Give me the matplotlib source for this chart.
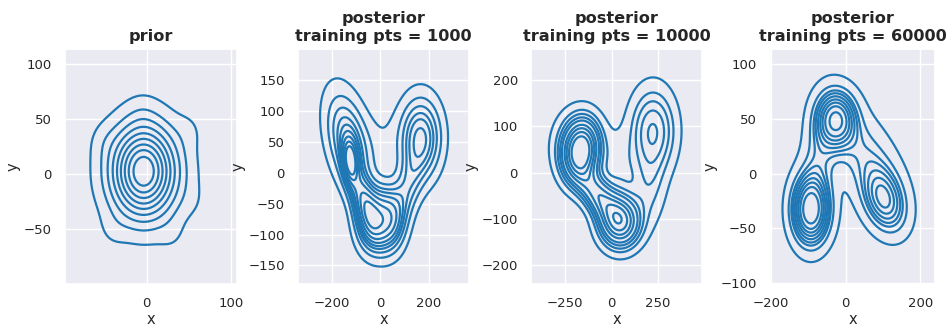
import numpy as np
import matplotlib
matplotlib.use('Agg')
import matplotlib.pyplot as plt
import seaborn as sns

# gaussian mixture components (centre, spread, correlation, weight) per panel
prior_mx = [-4, 0, -5, -50, 50, 55, -40, 30]
prior_my = [3, 0, 55, 30, 40, -25, -50, -55]
prior_sx = [24, 34, 12, 12, 12, 12, 12, 12]
prior_sy = [27, 27, 12, 12, 12, 12, 12, 12]
prior_rho = [0, 0, 0, 0, 0, 0, 0, 0]
prior_w = [0.8, 0.16, 0.005, 0.007, 0.007, 0.004, 0.007, 0.006]

p1k_mx = [-124, -130, -70, -35, 35, 165, 110, 15]
p1k_my = [20, 50, -45, -75, -75, 57, -25, 40]
p1k_sx = [20, 60, 40, 42, 42, 55, 45, 70]
p1k_sy = [22, 52, 35, 33, 33, 42, 40, 40]
p1k_rho = [-0.2, -0.4, -0.6, 0.0, 0.0, 0.0, 0.5, 0.0]
p1k_w = [0.05, 0.18, 0.08, 0.12, 0.12, 0.17, 0.06, 0.025]

p10k_mx = [-165, -180, -70, 45, 222, 200, 40]
p10k_my = [46, 60, -50, -105, 90, -30, 10]
p10k_sx = [60, 90, 75, 70, 80, 60, 60]
p10k_sy = [40, 50, 38, 36, 60, 55, 50]
p10k_rho = [0.1, 0.0, -0.6, 0.0, 0.0, 0.0, 0.0]
p10k_w = [0.24, 0.09, 0.12, 0.20, 0.18, 0.05, 0.03]

p60k_mx = [-25, -93, 102, 55, -70, 0]
p60k_my = [49, -33, -24, 15, 15, 10]
p60k_sx = [32, 30, 35, 60, 30, 100]
p60k_sy = [16, 19, 18, 28, 30, 55]
p60k_rho = [0.0, 0.0, -0.3, -0.6, 0.3, 0.0]
p60k_w = [0.20, 0.28, 0.16, 0.14, 0.08, 0.05]

titles = ['prior', 'posterior\ntraining pts = 1000',
          'posterior\ntraining pts = 10000', 'posterior\ntraining pts = 60000']
xlims = [(-97, 107), (-339, 364), (-432, 485), (-202, 239)]
ylims = [(-100, 114), (-180, 200), (-240, 266), (-101, 114)]
xticks = [[0, 100], [-200, 0, 200], [-250, 0, 250], [-200, 0, 200]]
yticks = [[-50, 0, 50, 100], [-150, -100, -50, 0, 50, 100, 150],
          [-200, -100, 0, 100, 200], [-100, -50, 0, 50, 100]]
boxes = [(65, 237), (298, 469), (531, 702), (770, 935)]


def mixture_density(xx, yy, mx, my, sx, sy, rho, w):
    z = np.zeros_like(xx)
    for m1, m2, s1, s2, r, wt in zip(mx, my, sx, sy, rho, w):
        u = (xx - m1) / s1
        v = (yy - m2) / s2
        q = (u * u - 2 * r * u * v + v * v) / (1 - r * r)
        z += wt * np.exp(-0.5 * q) / (2 * np.pi * s1 * s2 * np.sqrt(1 - r * r))
    return z


def iso_levels(z, props):
    # same iso-proportion rule as seaborn's kdeplot
    vals = np.sort(z.ravel())[::-1]
    cum = np.cumsum(vals) / vals.sum()
    idx = np.searchsorted(cum, 1 - np.asarray(props))
    return np.take(vals, idx, mode='clip')


def main():
    sns.set_theme(style='darkgrid')
    plt.rcParams['xtick.labelsize'] = 9.5
    plt.rcParams['ytick.labelsize'] = 9.5
    plt.rcParams['axes.labelsize'] = 10.5

    fig = plt.figure(figsize=(9.46, 3.28), dpi=100)
    W, H = 946., 328.

    mixes = [
        (prior_mx, prior_my, prior_sx, prior_sy, prior_rho, prior_w),
        (p1k_mx, p1k_my, p1k_sx, p1k_sy, p1k_rho, p1k_w),
        (p10k_mx, p10k_my, p10k_sx, p10k_sy, p10k_rho, p10k_w),
        (p60k_mx, p60k_my, p60k_sx, p60k_sy, p60k_rho, p60k_w),
    ]
    props = np.linspace(0.05, 1, 10)

    for i, mix in enumerate(mixes):
        x0, x1 = boxes[i]
        ax = fig.add_axes([x0 / W, (H - 284) / H, (x1 - x0) / W, 235 / H])

        lx, ly = xlims[i], ylims[i]
        dx, dy = lx[1] - lx[0], ly[1] - ly[0]
        gx = np.linspace(lx[0] - dx, lx[1] + dx, 450)
        gy = np.linspace(ly[0] - dy, ly[1] + dy, 450)
        xx, yy = np.meshgrid(gx, gy)
        z = mixture_density(xx, yy, *mix)
        ax.contour(xx, yy, z, levels=iso_levels(z, props), colors='#1f77b4',
                   linewidths=1.6)

        ax.set_xlim(lx)
        ax.set_ylim(ly)
        ax.set_xticks(xticks[i])
        ax.set_yticks(yticks[i])
        ax.set_xlabel('x', labelpad=1)
        ax.set_ylabel('y', labelpad=2)
        ax.set_title(titles[i], fontsize=11.6, fontweight='bold')

    fig.savefig('out.png', dpi=100)


if __name__ == '__main__':
    main()
